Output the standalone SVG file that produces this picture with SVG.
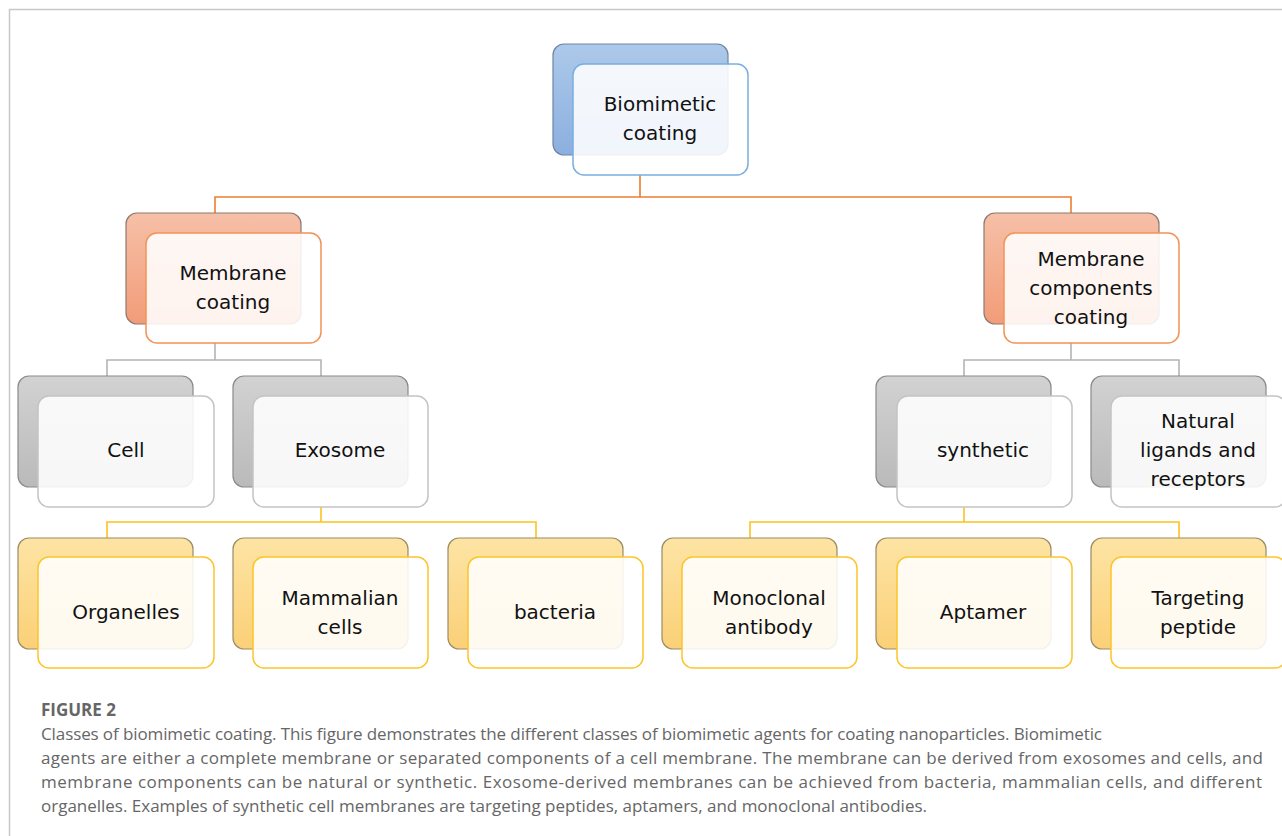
<svg xmlns="http://www.w3.org/2000/svg" width="1282" height="836" viewBox="0 0 1282 836">
<defs>
<linearGradient id="gBlue" x1="0" y1="0" x2="0" y2="1"><stop offset="0" stop-color="#adc9ea"/><stop offset="1" stop-color="#8bafdf"/></linearGradient>
<linearGradient id="gOrange" x1="0" y1="0" x2="0" y2="1"><stop offset="0" stop-color="#f6c0a8"/><stop offset="1" stop-color="#f29c78"/></linearGradient>
<linearGradient id="gGray" x1="0" y1="0" x2="0" y2="1"><stop offset="0" stop-color="#d2d2d2"/><stop offset="1" stop-color="#bababa"/></linearGradient>
<linearGradient id="gYellow" x1="0" y1="0" x2="0" y2="1"><stop offset="0" stop-color="#fde4a4"/><stop offset="1" stop-color="#fbd077"/></linearGradient>
</defs>
<style>
.back{stroke-width:1.2}
.bBlue{fill:url(#gBlue);stroke:#6f85a3}
.bOrange{fill:url(#gOrange);stroke:#8c7a70}
.bGray{fill:url(#gGray);stroke:#8a8a8a}
.bYellow{fill:url(#gYellow);stroke:#9c8c66}
.front{fill:#ffffff;fill-opacity:0.88;stroke-width:1.5}
.fBlue{stroke:#7aade0}
.fOrange{stroke:#f29256}
.fGray{stroke:#c4c4c4}
.fYellow{stroke:#fcc52a}
.lbl{font-family:"Comic Sans MS","DejaVu Sans",sans-serif;font-size:20px;fill:#111;text-anchor:middle}
.cOrange{stroke:#ed7d31;stroke-width:1.6;fill:none}
.cGray{stroke:#b4b4b4;stroke-width:1.6;fill:none}
.cYellow{stroke:#fdc21e;stroke-width:1.6;fill:none}
.cap{font-family:"Open Sans","Liberation Sans",sans-serif;font-size:17px;fill:#666}
</style>
<rect width="1282" height="836" fill="#fff"/>
<path d="M9.5 836 V9.5 H1282" fill="none" stroke="#c8c8c8" stroke-width="1.5"/>

<g id="connectors">
<path class="cOrange" d="M640 175 V197 M215 213 V197 H1071 V213"/>
<path class="cGray" d="M215 343 V360 M107 376 V360 H321 V376"/>
<path class="cGray" d="M1071 343 V360 M964 376 V360 H1179 V376"/>
<path class="cYellow" d="M321 507 V522 M107 538 V522 H536 V538"/>
<path class="cYellow" d="M964 507 V522 M750 538 V522 H1179 V538"/>
</g>

<g id="n-biomimetic">
<rect class="back bBlue" x="553" y="44" width="175" height="111" rx="11"/>
<rect class="front fBlue" x="573" y="64" width="175" height="111" rx="11"/>
<text class="lbl" x="660" y="111">Biomimetic</text>
<text class="lbl" x="660" y="140">coating</text>
</g>

<g id="n-membrane">
<rect class="back bOrange" x="126" y="213" width="175" height="111" rx="11"/>
<rect class="front fOrange" x="146" y="233" width="175" height="110" rx="11"/>
<text class="lbl" x="233" y="280">Membrane</text>
<text class="lbl" x="233" y="309">coating</text>
</g>

<g id="n-components">
<rect class="back bOrange" x="984" y="213" width="175" height="111" rx="11"/>
<rect class="front fOrange" x="1004" y="233" width="175" height="110" rx="11"/>
<text class="lbl" x="1091" y="266">Membrane</text>
<text class="lbl" x="1091" y="295">components</text>
<text class="lbl" x="1091" y="324">coating</text>
</g>

<g id="n-cell">
<rect class="back bGray" x="18" y="376" width="175" height="111" rx="11"/>
<rect class="front fGray" x="38" y="396" width="176" height="111" rx="11"/>
<text class="lbl" x="126" y="457">Cell</text>
</g>

<g id="n-exosome">
<rect class="back bGray" x="233" y="376" width="175" height="111" rx="11"/>
<rect class="front fGray" x="253" y="396" width="175" height="111" rx="11"/>
<text class="lbl" x="340" y="457">Exosome</text>
</g>

<g id="n-synthetic">
<rect class="back bGray" x="876" y="376" width="175" height="111" rx="11"/>
<rect class="front fGray" x="897" y="396" width="175" height="111" rx="11"/>
<text class="lbl" x="983" y="457">synthetic</text>
</g>

<g id="n-natural">
<rect class="back bGray" x="1091" y="376" width="175" height="111" rx="11"/>
<rect class="front fGray" x="1111" y="396" width="175" height="111" rx="11"/>
<text class="lbl" x="1198" y="428">Natural</text>
<text class="lbl" x="1198" y="457">ligands and</text>
<text class="lbl" x="1198" y="486">receptors</text>
</g>

<g id="n-organelles">
<rect class="back bYellow" x="18" y="538" width="175" height="111" rx="11"/>
<rect class="front fYellow" x="38" y="557" width="176" height="111" rx="11"/>
<text class="lbl" x="126" y="619">Organelles</text>
</g>

<g id="n-mammalian">
<rect class="back bYellow" x="233" y="538" width="175" height="111" rx="11"/>
<rect class="front fYellow" x="253" y="557" width="175" height="111" rx="11"/>
<text class="lbl" x="340" y="605">Mammalian</text>
<text class="lbl" x="340" y="634">cells</text>
</g>

<g id="n-bacteria">
<rect class="back bYellow" x="448" y="538" width="175" height="111" rx="11"/>
<rect class="front fYellow" x="468" y="557" width="175" height="111" rx="11"/>
<text class="lbl" x="555" y="619">bacteria</text>
</g>

<g id="n-monoclonal">
<rect class="back bYellow" x="662" y="538" width="175" height="111" rx="11"/>
<rect class="front fYellow" x="682" y="557" width="175" height="111" rx="11"/>
<text class="lbl" x="769" y="605">Monoclonal</text>
<text class="lbl" x="769" y="634">antibody</text>
</g>

<g id="n-aptamer">
<rect class="back bYellow" x="876" y="538" width="175" height="111" rx="11"/>
<rect class="front fYellow" x="897" y="557" width="175" height="111" rx="11"/>
<text class="lbl" x="983" y="619">Aptamer</text>
</g>

<g id="n-targeting">
<rect class="back bYellow" x="1091" y="538" width="175" height="111" rx="11"/>
<rect class="front fYellow" x="1111" y="557" width="175" height="111" rx="11"/>
<text class="lbl" x="1198" y="605">Targeting</text>
<text class="lbl" x="1198" y="634">peptide</text>
</g>

<g id="caption">
<text class="cap" x="41" y="716" font-weight="bold" fill="#555">FIGURE 2</text>
<text class="cap" x="41" y="740" textLength="1061" lengthAdjust="spacing">Classes of biomimetic coating. This figure demonstrates the different classes of biomimetic agents for coating nanoparticles. Biomimetic</text>
<text class="cap" x="41" y="764" textLength="1222" lengthAdjust="spacing">agents are either a complete membrane or separated components of a cell membrane. The membrane can be derived from exosomes and cells, and</text>
<text class="cap" x="41" y="788" textLength="1221" lengthAdjust="spacing">membrane components can be natural or synthetic. Exosome-derived membranes can be achieved from bacteria, mammalian cells, and different</text>
<text class="cap" x="41" y="812" textLength="886" lengthAdjust="spacing">organelles. Examples of synthetic cell membranes are targeting peptides, aptamers, and monoclonal antibodies.</text>
</g>
</svg>
